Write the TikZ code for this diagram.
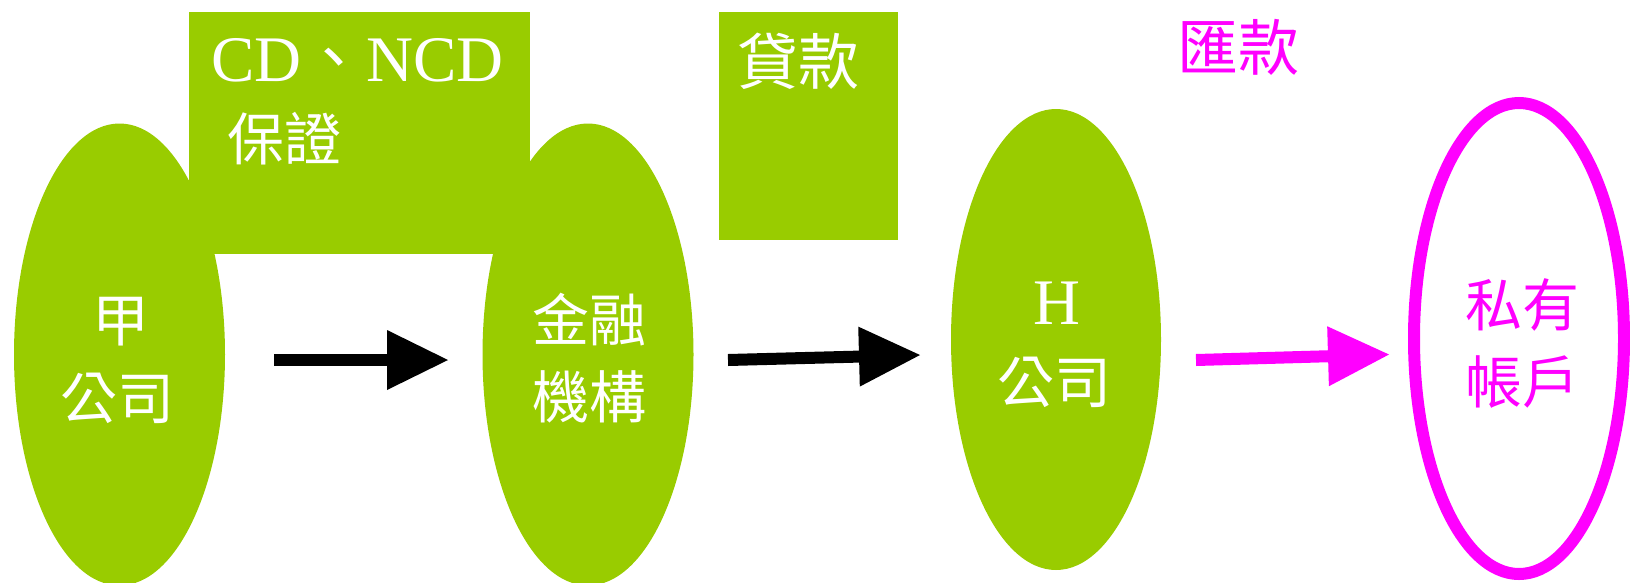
\documentclass[tikz,border=0pt]{standalone}
\usepackage{fontspec}
\setmainfont{Liberation Serif}
\newfontfamily\cjk{Noto Sans CJK TC}
\usetikzlibrary{shapes.geometric,arrows.meta}
\definecolor{grn}{HTML}{99CC00}
\definecolor{mag}{HTML}{FF00FF}
\tikzset{
  gell/.style={ellipse, fill=grn, draw=none, inner sep=0pt},
  mell/.style={ellipse, fill=white, draw=mag, line width=12pt, inner sep=0pt},
  gbox/.style={fill=grn, draw=none},
  cjkl/.style={inner sep=0pt, font=\fontsize{57}{77}\selectfont\cjk},
  cjkb/.style={inner sep=0pt, font=\fontsize{61}{77}\selectfont\cjk},
  latl/.style={inner sep=0pt, font=\fontsize{65}{78}\selectfont},
  blockarrow/.style={line width=12pt, -{Triangle[length=61pt,width=60pt,line width=0pt]}},
}
\begin{document}
\begin{tikzpicture}[x=1pt,y=-1pt]
\useasboundingbox (0,0) rectangle (1630,582);
% ellipses
\node[gell, minimum width=211pt, minimum height=462pt] (jia) at (119.5,354.5) {};
\node[gell, minimum width=211pt, minimum height=462pt] (fin) at (588,354.5) {};
\node[gell, minimum width=210pt, minimum height=461pt] (hco) at (1056,339.5) {};
\node[mell, minimum width=210pt, minimum height=471pt] (acct) at (1519,338.5) {};
% boxes
\node[gbox, anchor=north west, minimum width=341pt, minimum height=242pt, inner sep=0pt] (cdbox) at (189,12) {};
\node[gbox, anchor=north west, minimum width=179pt, minimum height=228pt, inner sep=0pt] (loanbox) at (719,12) {};
% box texts
\node[latl, text=white, anchor=base west] (cdt) at (211,81) {CD{\cjk 、}NCD};
\node[cjkl, text=white] (bzt) at (284.5,139) {保證};
\node[cjkb, text=white] (loant) at (798.5,61) {貸款};
\node[cjkb, text=mag] (remit) at (1238.5,47) {匯款};
% ellipse texts
\node[cjkl, text=white] (jia1) at (121,322) {甲};
\node[cjkl, text=white] (jia2) at (117,398) {公司};
\node[cjkl, text=white] (fin1) at (589,319.5) {金融};
\node[cjkl, text=white] (fin2) at (589,397) {機構};
\node[latl, text=white, anchor=base] (hco1) at (1056.5,324) {H};
\node[cjkl, text=white] (hco2) at (1054,382.5) {公司};
\node[cjkl, text=mag] (acct1) at (1522,305) {私有};
\node[cjkl, text=mag] (acct2) at (1522,382) {帳戶};
% arrows
\coordinate (a1s) at (274,360);
\coordinate (a1e) at (448,360);
\coordinate (a2s) at (728,360);
\coordinate (a2e) at (920,355);
\coordinate (a3s) at (1196,360);
\coordinate (a3e) at (1389,354.5);
\draw[blockarrow, draw=black] (a1s) -- (a1e);
\draw[blockarrow, draw=black] (a2s) -- (a2e);
\draw[blockarrow, draw=mag] (a3s) -- (a3e);
\end{tikzpicture}
\end{document}
